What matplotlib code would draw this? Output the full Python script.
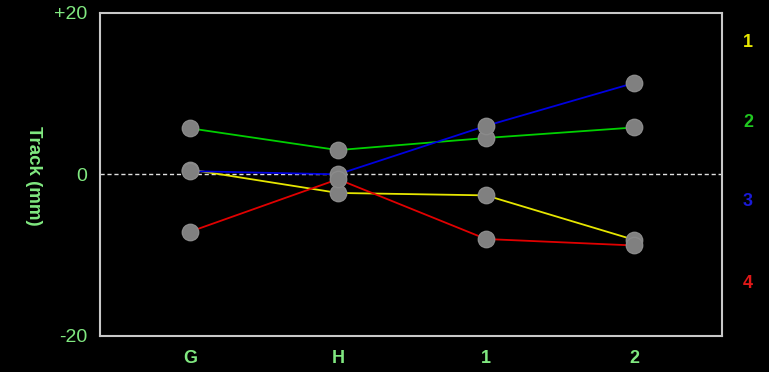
import matplotlib
matplotlib.use("Agg")
import matplotlib.pyplot as plt

plt.rcParams["font.family"] = ["Liberation Sans", "DejaVu Sans"]

categories = ["G", "H", "1", "2"]
series_names = ["1", "2", "3", "4"]
series_colors = ["#e6e600", "#00d000", "#0000e0", "#e00000"]
label_colors = ["#e6e600", "#20c820", "#1a1ad8", "#e01818"]
s1 = [0.6, -2.3, -2.6, -8.1]
s2 = [5.7, 3.0, 4.5, 5.8]
s3 = [0.4, 0.0, 6.0, 11.3]
s4 = [-7.1, -0.6, -8.0, -8.8]
series = [s1, s2, s3, s4]
ytick_vals = [-20, 0, 20]
ytick_labels = ["-20", "0", "+20"]

txt = "#80e880"

fig = plt.figure(figsize=(7.69, 3.72), dpi=100, facecolor="black")
ax = fig.add_axes([0.130, 0.0968, 0.809, 0.869])
ax.set_facecolor("black")
x = list(range(len(categories)))

ax.axhline(0, color="#e0e0e0", lw=1.0, ls=(0, (3, 2)), zorder=1)
for vals, c in zip(series, series_colors):
    ax.plot(x, vals, color=c, lw=1.3, zorder=2)
for vals in series:
    ax.plot(x, vals, ls="none", marker="o", ms=11.8, color="#808080",
            markeredgecolor="#8a8a8a", zorder=3)

ax.set_xlim(-0.608, 3.595)
ax.set_ylim(-20, 20)
ax.set_xticks(x)
ax.set_xticklabels(categories, color=txt, fontsize=13, fontweight="bold")
ax.set_yticks(ytick_vals)
ax.set_yticklabels(ytick_labels, color=txt, fontsize=14)
ax.tick_params(axis="y", length=0, pad=9)
ax.tick_params(axis="x", length=0, pad=10)
for sp in ax.spines.values():
    sp.set_color("#c8c8c8")
    sp.set_linewidth(1.5)

fig.text(33 / 769, 1 - 176 / 372, "Track (mm)", color=txt, fontsize=13.5,
         fontweight="bold", rotation=270, ha="center", va="center")

ys = [42.5, 122.5, 202, 283.5]
for name, c, yp in zip(series_names, label_colors, ys):
    fig.text(748 / 769, 1 - yp / 372, name, color=c, fontsize=13,
             fontweight="bold", ha="center", va="center")

fig.savefig("out.png", dpi=100, facecolor="black")
